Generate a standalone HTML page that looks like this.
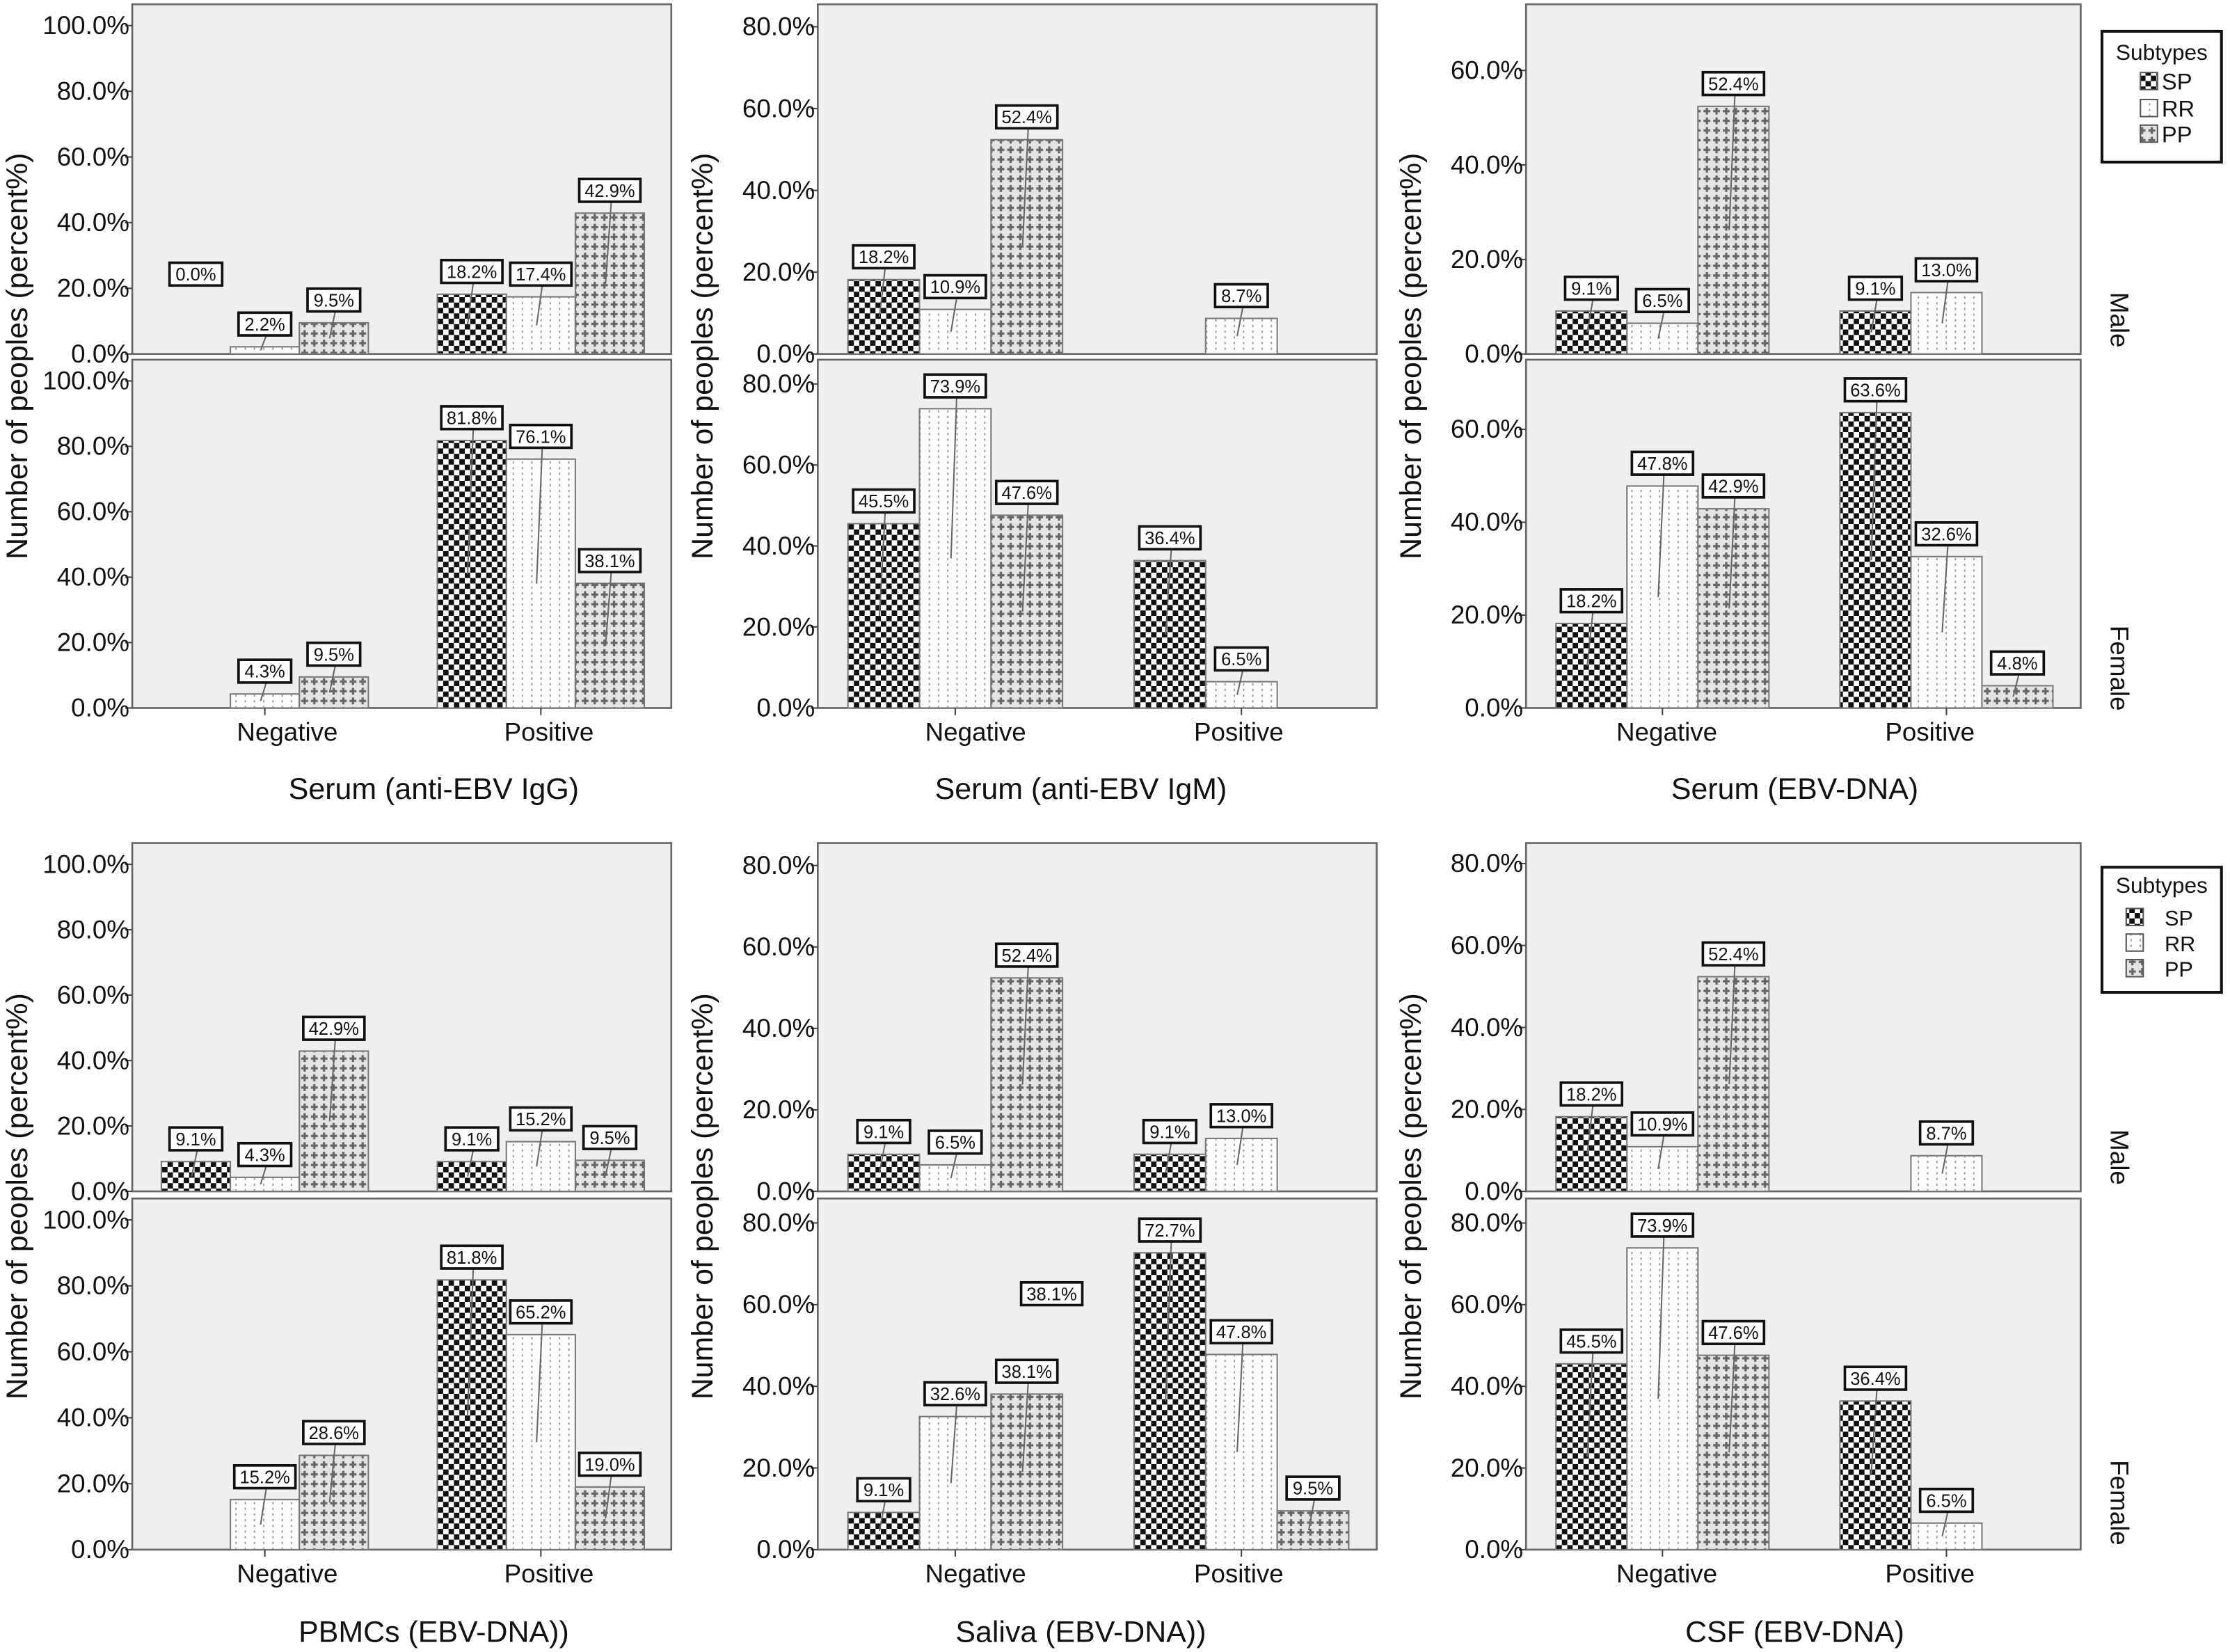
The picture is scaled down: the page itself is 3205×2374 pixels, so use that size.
<!DOCTYPE html>
<html><head><meta charset="utf-8">
<style>
html,body{margin:0;padding:0;background:#fff;}
svg{display:block;}
text{font-family:"Liberation Sans",Arial,sans-serif;fill:#111;}
</style></head>
<body>
<svg id="fig" xmlns="http://www.w3.org/2000/svg" width="3205" height="2374" viewBox="0 0 1568 1162" preserveAspectRatio="none">
<defs>
<pattern id="pSP" width="7.6" height="7.6" patternUnits="userSpaceOnUse">
<rect width="7.6" height="7.6" fill="#fff"/><rect width="3.8" height="3.8" fill="#111"/><rect x="3.8" y="3.8" width="3.8" height="3.8" fill="#111"/>
</pattern>
<pattern id="pRR" width="6.5" height="4" patternUnits="userSpaceOnUse">
<rect width="6.5" height="4" fill="#fbfbfb"/><rect x="3" y="0.5" width="0.9" height="1.6" fill="#999"/>
</pattern>
<pattern id="pPP" width="6.8" height="6.8" patternUnits="userSpaceOnUse">
<rect width="6.8" height="6.8" fill="#e4e4e4"/><rect x="2.6" y="1" width="1.6" height="4.8" fill="#666"/><rect x="1" y="2.6" width="4.8" height="1.6" fill="#666"/>
</pattern>
</defs>
</svg>
<script>
// ---- data (percent values; null = no bar) ----
const categories = ["Negative", "Positive"];
const subtypes = ["SP", "RR", "PP"];
const chartTitles = ["Serum (anti-EBV IgG)", "Serum (anti-EBV IgM)", "Serum (EBV-DNA)", "PBMCs (EBV-DNA))", "Saliva (EBV-DNA))", "CSF (EBV-DNA)"];
const iggMale = [[0.0, 2.2, 9.5], [18.2, 17.4, 42.9]];
const iggFemale = [[null, 4.3, 9.5], [81.8, 76.1, 38.1]];
const igmMale = [[18.2, 10.9, 52.4], [null, 8.7, null]];
const igmFemale = [[45.5, 73.9, 47.6], [36.4, 6.5, null]];
const dnaMale = [[9.1, 6.5, 52.4], [9.1, 13.0, null]];
const dnaFemale = [[18.2, 47.8, 42.9], [63.6, 32.6, 4.8]];
const pbmcMale = [[9.1, 4.3, 42.9], [9.1, 15.2, 9.5]];
const pbmcFemale = [[null, 15.2, 28.6], [81.8, 65.2, 19.0]];
const salivaMale = [[9.1, 6.5, 52.4], [9.1, 13.0, null]];
const salivaFemale = [[9.1, 32.6, 38.1], [72.7, 47.8, 9.5]];
const csfMale = [[18.2, 10.9, 52.4], [null, 8.7, null]];
const csfFemale = [[45.5, 73.9, 47.6], [36.4, 6.5, null]];
const ticks100 = [0, 20, 40, 60, 80, 100];
const ticks80 = [0, 20, 40, 60, 80];
const ticks60 = [0, 20, 40, 60];

const NS = "http://www.w3.org/2000/svg";
const svg = document.getElementById('fig');
function mk(tag, attrs, parent, txt) {
  const e = document.createElementNS(NS, tag);
  for (const k in attrs) e.setAttribute(k, attrs[k]);
  if (txt !== undefined) e.textContent = txt;
  (parent || svg).appendChild(e);
  return e;
}
const fills = ["url(#pSP)", "url(#pRR)", "url(#pPP)"];

// layout
const cols = [{x0: 93, x1: 472, cat: [202, 386], title: 305},
              {x0: 575, x1: 968, cat: [686, 871], title: 760},
              {x0: 1073, x1: 1463, cat: [1172, 1357], title: 1262}];
const rows = [{mTop: 3, mBot: 249, fTop: 253, fBot: 498, catY: 521, titleY: 562},
              {mTop: 593, mBot: 838, fTop: 843, fBot: 1090, catY: 1113, titleY: 1155}];
const charts = [
  {c: 0, r: 0, male: iggMale, female: iggFemale, ticks: ticks100, max: 106.5, fticks: ticks100, fmax: 106.5},
  {c: 1, r: 0, male: igmMale, female: igmFemale, ticks: ticks80, max: 85.5, fticks: ticks80, fmax: 86},
  {c: 2, r: 0, male: dnaMale, female: dnaFemale, ticks: ticks60, max: 74, fticks: ticks60, fmax: 75},
  {c: 0, r: 1, male: pbmcMale, female: pbmcFemale, ticks: ticks100, max: 106.5, fticks: ticks100, fmax: 106.5},
  {c: 1, r: 1, male: salivaMale, female: salivaFemale, ticks: ticks80, max: 85.5, fticks: ticks80, fmax: 86},
  {c: 2, r: 1, male: csfMale, female: csfFemale, ticks: ticks80, max: 85, fticks: ticks80, fmax: 86},
];

function drawPanel(g, x0, x1, top, bot, data, ticks, vmax, name) {
  const p = mk('g', {}, g);
  
  
  const fr = mk('rect', {x: x0, y: top, width: x1 - x0, height: bot - top, fill: '#efefef', stroke: '#666', 'stroke-width': 1.3}, p);
  
  
  const y = v => bot - v / vmax * (bot - top);
  const W = x1 - x0;
  const bw = W * 0.128;
  ticks.forEach(t => {
    mk('line', {x1: x0 - 5, x2: x0, y1: y(t), y2: y(t), stroke: '#444', 'stroke-width': 1}, p);
    const tl = mk('text', {x: x0 - 2, y: y(t) + 6, 'text-anchor': 'end', 'font-size': 18}, p, t.toFixed(1) + '%');
    
    
  });
  categories.forEach((cat, ci) => {
    const cc = x0 + W * (ci === 0 ? 0.246 : 0.758);
    data[ci].forEach((v, si) => {
      if (v === null) return;
      const bx = cc + (si - 1.5) * bw;
      const bar = mk('rect', {x: bx, y: y(v), width: bw, height: bot - y(v), fill: fills[si], stroke: '#777', 'stroke-width': 1}, p);
      
      
      const lx = bx + bw / 2;
      const bh = 16, bwid = v >= 10 ? 43 : 37;
      let by = y(v) - 8 - bh;
      if (v === 0) by = y(20) - 2 - bh;
      mk('line', {x1: lx + 1, y1: by + bh, x2: lx - 3, y2: v === 0 ? by + bh : y(v / 2), stroke: '#666', 'stroke-width': 1}, p);
      const lb = mk('rect', {x: lx - bwid / 2, y: by, width: bwid, height: bh, fill: '#fff', stroke: '#111', 'stroke-width': 1.8}, p);
      
      
      const lt = mk('text', {x: lx, y: by + 12.5, 'text-anchor': 'middle', 'font-size': 12.5}, p, v.toFixed(1) + '%');
      
      
    });
  });
  return {y, W};
}

charts.forEach((ch, i) => {
  const col = cols[ch.c], row = rows[ch.r];
  const g = mk('g', {});
  
  
  drawPanel(g, col.x0, col.x1, row.mTop, row.mBot, ch.male, ch.ticks, ch.max, 'male-panel');
  const fp = drawPanel(g, col.x0, col.x1, row.fTop, row.fBot, ch.female, ch.fticks, ch.fmax, 'female-panel');
  categories.forEach((cat, ci) => {
    const cc = col.x0 + fp.W * (ci === 0 ? 0.246 : 0.758);
    mk('line', {x1: cc, x2: cc, y1: row.fBot, y2: row.fBot + 5, stroke: '#444'}, g);
    const ct = mk('text', {x: col.cat[ci], y: row.catY, 'text-anchor': 'middle', 'font-size': 18}, g, cat);
    
    
  });
  const tt = mk('text', {x: col.title, y: row.titleY, 'text-anchor': 'middle', 'font-size': 21}, g, chartTitles[i]);
  
  
  const yx = col.x0 - 74, yc = (row.mTop + row.fBot) / 2;
  const yt = mk('text', {x: yx, y: yc, 'text-anchor': 'middle', 'font-size': 21, transform: 'rotate(-90 ' + yx + ' ' + yc + ')'}, g, 'Number of peoples (percent%)');
  
  
});

// stray duplicate label in saliva female panel
{
  const g = mk('g', {});
  
  
  mk('rect', {x: 718, y: 902, width: 43, height: 16, fill: '#fff', stroke: '#111', 'stroke-width': 1.8}, g);
  mk('text', {x: 739.5, y: 914.5, 'text-anchor': 'middle', 'font-size': 12.5}, g, '38.1%');
}

// row labels
[[225, 'Male'], [470, 'Female'], [814, 'Male'], [1057, 'Female']].forEach(([cy, lab]) => {
  const t = mk('text', {x: 1484, y: cy, 'text-anchor': 'middle', 'font-size': 18, transform: 'rotate(90 1484 ' + cy + ')'}, svg, lab);
  
  
});

// legends
[{y: 22, h: 92, ty: 42, e: [62, 81, 99], sx: 1505, tx: 1520, fs: 16},
 {y: 610, h: 88, ty: 628, e: [650, 668, 686], sx: 1495, tx: 1522, fs: 15}].forEach(L => {
  const g = mk('g', {});
  
  
  mk('rect', {x: 1478, y: L.y, width: 84, height: L.h, fill: '#fff', stroke: '#111', 'stroke-width': 2}, g);
  mk('text', {x: 1520, y: L.ty, 'text-anchor': 'middle', 'font-size': 15.5}, g, 'Subtypes');
  subtypes.forEach((s, i) => {
    const sw = mk('rect', {x: L.sx, y: L.e[i] - 11, width: 12, height: 12, fill: fills[i], stroke: '#555', 'stroke-width': 1}, g);
    
    
    const t = mk('text', {x: L.tx, y: L.e[i] + 1, 'font-size': L.fs}, g, s);
    
    
  });
});
</script>
</body></html>
